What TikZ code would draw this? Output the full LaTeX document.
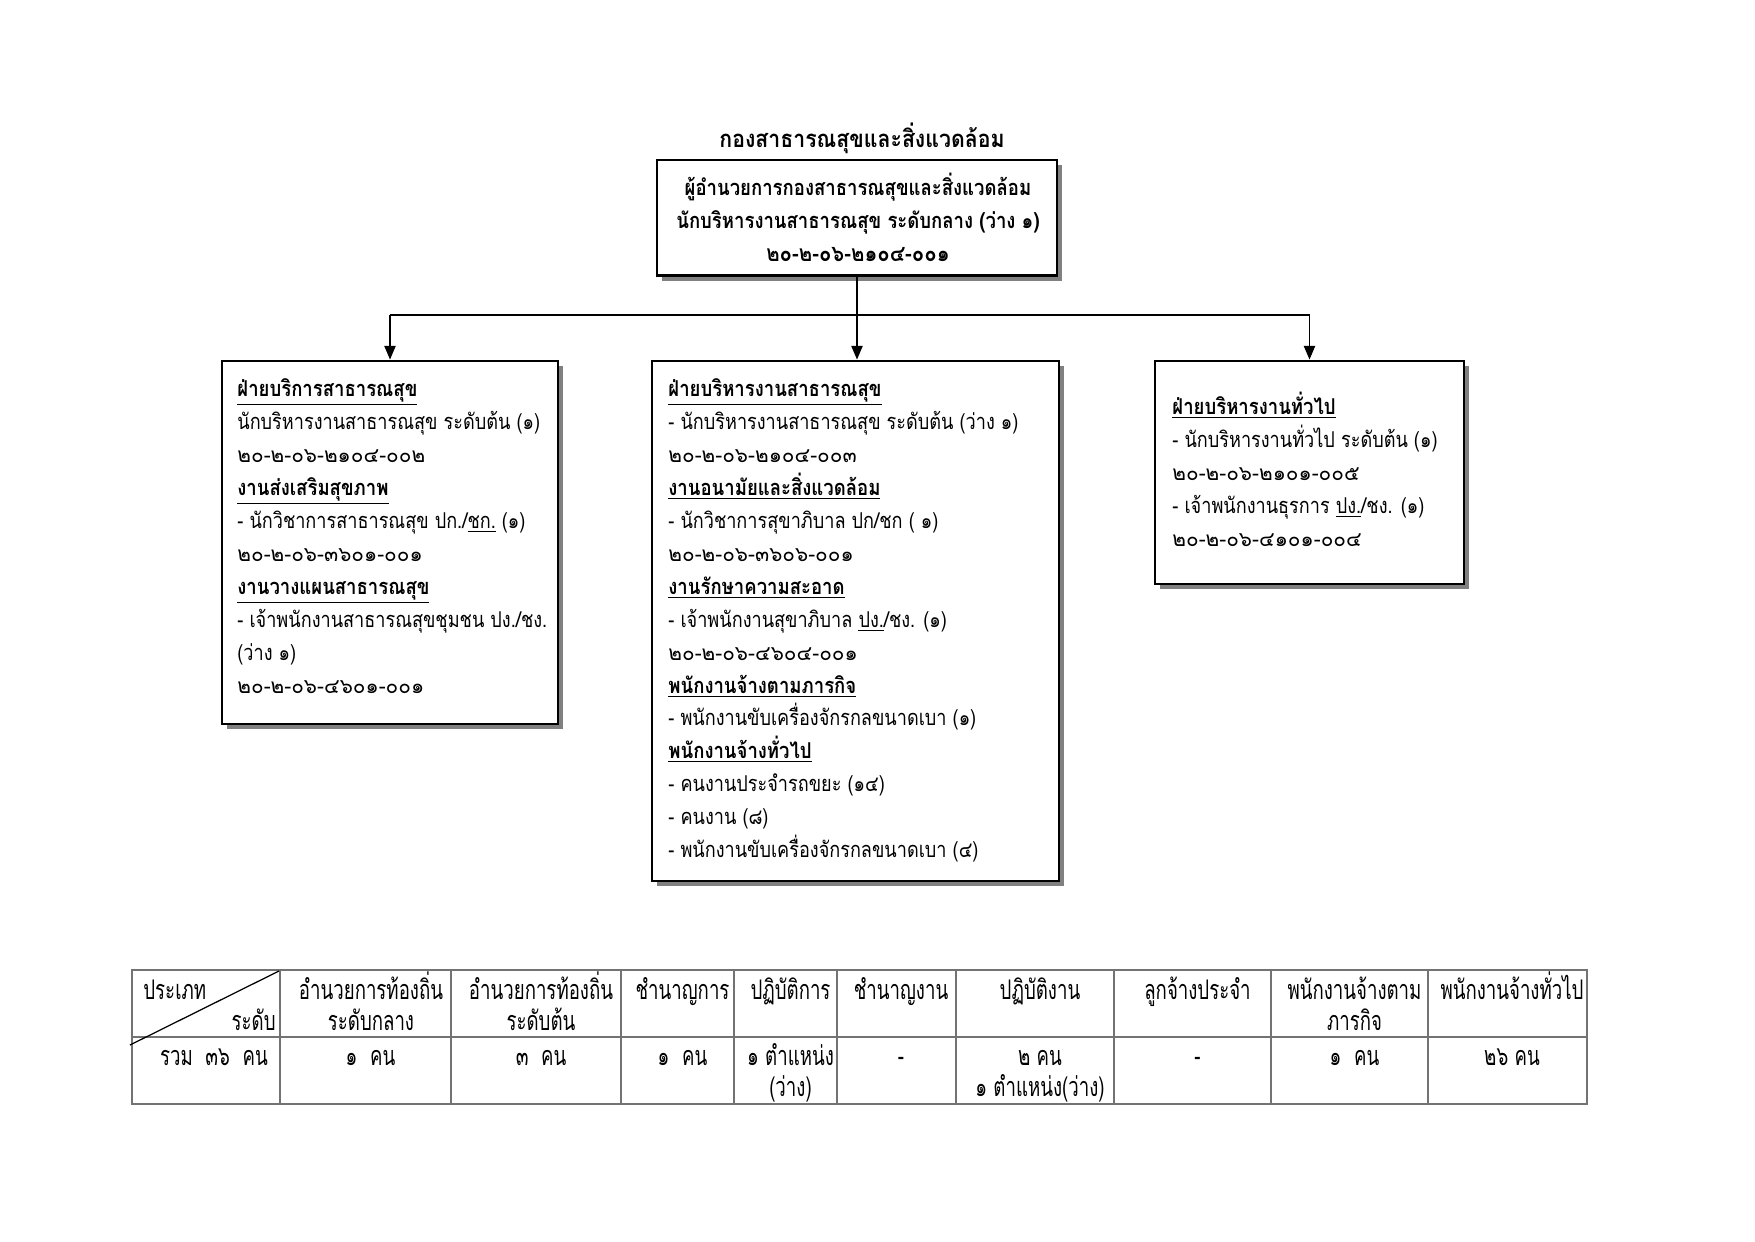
\documentclass[tikz,border=0pt]{standalone}
\usepackage{fontspec}
\usetikzlibrary{arrows.meta,shadows,fit}
\newfontfamily\thai[Script=Thai,FakeStretch=0.83]{Loma}
\newfontfamily\thaicode[Script=Thai]{Loma}
\newfontfamily\thaib[Script=Thai,FakeStretch=0.85]{Loma}
\newfontfamily\thait[Script=Thai,FakeStretch=0.89]{Loma}
\newfontfamily\thaitab[Script=Thai,FakeStretch=0.69]{Loma}
\def\pu{0.16923mm}
\tikzset{
  box/.style={draw=black, line width=1.4pt, fill=white, inner sep=0pt,
    drop shadow={shadow xshift=0.85mm, shadow yshift=-0.85mm, fill=black!50, opacity=1}},
  ln/.style={anchor=base west, inner sep=0pt, font=\thai\fontsize{10.5}{12}\selectfont},
  code/.style={anchor=base west, inner sep=0pt, font=\thaicode\fontsize{10}{12}\selectfont},
  hd/.style={anchor=base west, inner sep=0pt, font=\thaib\fontsize{10.5}{12}\selectfont\bfseries},
  cl/.style={anchor=base, inner sep=0pt, font=\thaib\fontsize{10.5}{12}\selectfont\bfseries},
  tb/.style={anchor=base, inner sep=0pt, font=\thaitab\fontsize{13}{14}\selectfont},
  conn/.style={draw=black, line width=0.6pt},
  arr/.style={conn, -{Triangle[length=2.3mm, width=1.9mm]}},
  grid/.style={draw=black!55, line width=0.9pt}
}
\begin{document}
\begin{tikzpicture}[x=\pu, y=-\pu]
\useasboundingbox (0,0) rectangle (1755,1241);
\fill[white] (0,0) rectangle (1755,1241);

% title
\node[cl, font=\thait\fontsize{11.5}{12}\selectfont\bfseries] (title) at (862,147) {กองสาธารณสุขและสิ่งแวดล้อม};

% boxes
\node[box, fit={(657,160) (1057,275.5)}] (T) {};
\node[box, fit={(222,361) (558,724)}] (L) {};
\node[box, fit={(652,361) (1059,881)}] (M) {};
\node[box, fit={(1155,361) (1464,584)}] (R) {};

% top box text
\node[cl] (t1) at (858,195) {ผู้อำนวยการกองสาธารณสุขและสิ่งแวดล้อม};
\node[cl] (t2) at (858,228) {นักบริหารงานสาธารณสุข ระดับกลาง (ว่าง ๑)};
\node[cl, font=\thait\fontsize{11}{12}\selectfont\bfseries] (t3) at (858,261) {๒๐-๒-๐๖-๒๑๐๔-๐๐๑};

% connectors
\coordinate (hl) at (L.north |- 0,315);
\coordinate (hr) at (R.north |- 0,315);
\draw[conn, line width=1.1pt] (hl) -- (hr);
\draw[arr] (T.south) -- (T.south |- M.north);
\draw[arr] (hl) -- (L.north);
\draw[arr] (hr) -- (R.north);

% left box text
\node[hd] (l1) at (237,396) {\underline{ฝ่ายบริการสาธารณสุข}};
\node[ln] (l2) at (237,429) {นักบริหารงานสาธารณสุข ระดับต้น (๑)};
\node[code] (l3) at (237,462) {๒๐-๒-๐๖-๒๑๐๔-๐๐๒};
\node[hd] (l4) at (237,495) {\underline{งานส่งเสริมสุขภาพ}};
\node[ln] (l5) at (237,528) {- นักวิชาการสาธารณสุข ปก./\underline{ชก.} (๑)};
\node[code] (l6) at (237,561) {๒๐-๒-๐๖-๓๖๐๑-๐๐๑};
\node[hd] (l7) at (237,594) {\underline{งานวางแผนสาธารณสุข}};
\node[ln] (l8) at (237,627) {- เจ้าพนักงานสาธารณสุขชุมชน ปง./ชง.};
\node[ln] (l9) at (237,660) {(ว่าง ๑)};
\node[code] (l10) at (237,693) {๒๐-๒-๐๖-๔๖๐๑-๐๐๑};

% middle box text
\node[hd] (m1) at (668,396) {\underline{ฝ่ายบริหารงานสาธารณสุข}};
\node[ln] (m2) at (668,429) {- นักบริหารงานสาธารณสุข ระดับต้น (ว่าง ๑)};
\node[code] (m3) at (668,462) {๒๐-๒-๐๖-๒๑๐๔-๐๐๓};
\node[hd] (m4) at (668,495) {\underline{งานอนามัยและสิ่งแวดล้อม}};
\node[ln] (m5) at (668,528) {- นักวิชาการสุขาภิบาล ปก/ชก ( ๑)};
\node[code] (m6) at (668,561) {๒๐-๒-๐๖-๓๖๐๖-๐๐๑};
\node[hd] (m7) at (668,594) {\underline{งานรักษาความสะอาด}};
\node[ln] (m8) at (668,627) {- เจ้าพนักงานสุขาภิบาล \underline{ปง.}/ชง. (๑)};
\node[code] (m9) at (668,660) {๒๐-๒-๐๖-๔๖๐๔-๐๐๑};
\node[hd] (m10) at (668,693) {\underline{พนักงานจ้างตามภารกิจ}};
\node[ln] (m11) at (668,725) {- พนักงานขับเครื่องจักรกลขนาดเบา (๑)};
\node[hd] (m12) at (668,758) {\underline{พนักงานจ้างทั่วไป}};
\node[ln] (m13) at (668,791) {- คนงานประจำรถขยะ (๑๔)};
\node[ln] (m14) at (668,824) {- คนงาน (๘)};
\node[ln] (m15) at (668,857) {- พนักงานขับเครื่องจักรกลขนาดเบา (๔)};

% right box text
\node[hd] (r1) at (1172,414) {\underline{ฝ่ายบริหารงานทั่วไป}};
\node[ln] (r2) at (1172,447) {- นักบริหารงานทั่วไป ระดับต้น (๑)};
\node[code] (r3) at (1172,480) {๒๐-๒-๐๖-๒๑๐๑-๐๐๕};
\node[ln] (r4) at (1172,513) {- เจ้าพนักงานธุรการ \underline{ปง.}/ชง. (๑)};
\node[code] (r5) at (1172,546) {๒๐-๒-๐๖-๔๑๐๑-๐๐๔};

% table grid
\draw[grid] (132,970) rectangle (1587,1104);
\draw[grid] (132,1037) -- (1587,1037);
\foreach \x in {280,451,621,734,837,956,1114,1271,1428}
  \draw[grid] (\x,970) -- (\x,1104);
\coordinate (dg1) at (279,971);
\coordinate (dg2) at (130,1045);
\draw[conn] (dg1) -- (dg2);

% table header
\node[tb, anchor=base west] (h1a) at (143,999) {ประเภท};
\node[tb, anchor=base east] (h1b) at (276,1030) {ระดับ};
\node[tb] (h2a) at (371,999) {อำนวยการท้องถิ่น};
\node[tb] (h2b) at (371,1030) {ระดับกลาง};
\node[tb] (h3a) at (541,999) {อำนวยการท้องถิ่น};
\node[tb] (h3b) at (541,1030) {ระดับต้น};
\node[tb] (h4) at (682.5,999) {ชำนาญการ};
\node[tb] (h5) at (790.5,999) {ปฏิบัติการ};
\node[tb] (h6) at (901,999) {ชำนาญงาน};
\node[tb] (h7) at (1040,999) {ปฏิบัติงาน};
\node[tb] (h8) at (1197.5,999) {ลูกจ้างประจำ};
\node[tb] (h9a) at (1354.5,999) {พนักงานจ้างตาม};
\node[tb] (h9b) at (1354.5,1030) {ภารกิจ};
\node[tb] (h10) at (1512,999) {พนักงานจ้างทั่วไป};

% table data
\node[tb] (d1) at (214,1065) {รวม~~๓๖~~คน};
\node[tb] (d2) at (370.5,1065) {๑~~คน};
\node[tb] (d3) at (541,1065) {๓~~คน};
\node[tb] (d4) at (682.5,1065) {๑~~คน};
\node[tb] (d5a) at (790.5,1065) {๑ ตำแหน่ง};
\node[tb] (d5b) at (790.5,1096) {(ว่าง)};
\node[tb] (d6) at (901,1065) {-};
\node[tb] (d7a) at (1040,1065) {๒ คน};
\node[tb] (d7b) at (1040,1096) {๑ ตำแหน่ง(ว่าง)};
\node[tb] (d8) at (1197.5,1065) {-};
\node[tb] (d9) at (1354.5,1065) {๑~~คน};
\node[tb] (d10) at (1512,1065) {๒๖ คน};
\end{tikzpicture}
\end{document}
